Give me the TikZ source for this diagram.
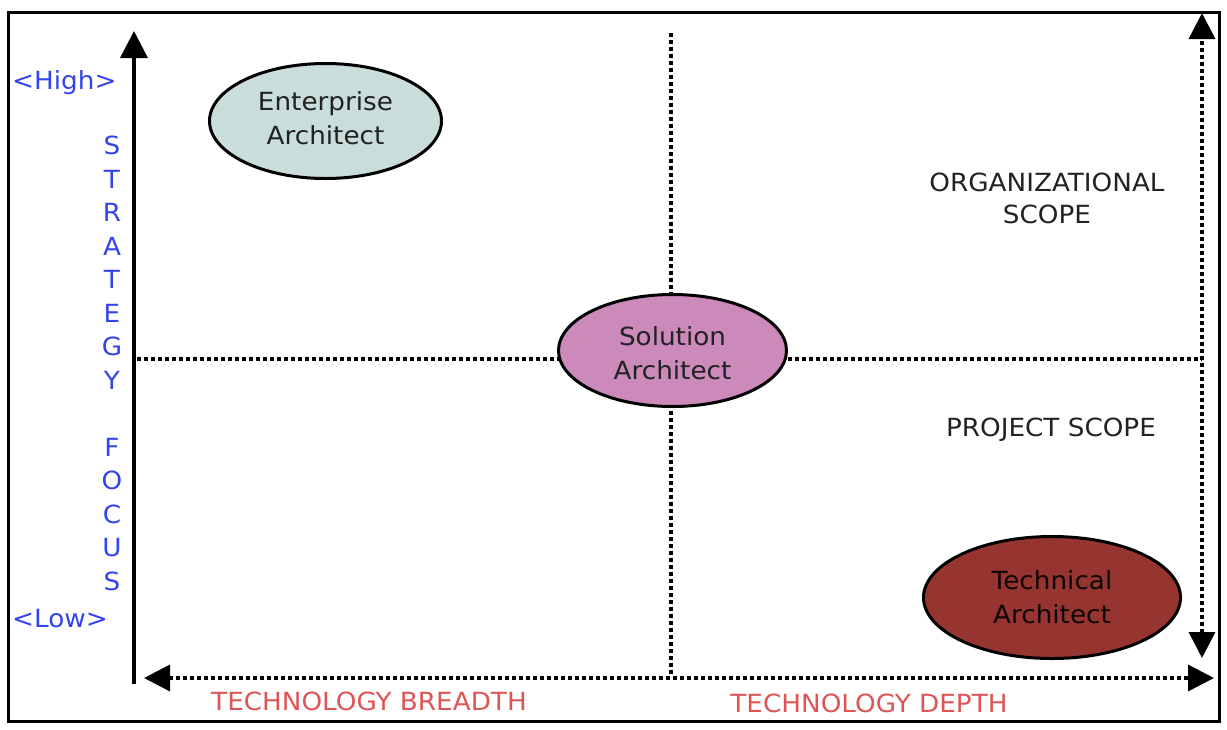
\documentclass[tikz,border=0pt]{standalone}
\usepackage{fontspec}
\setmainfont{DejaVu Sans}[FakeStretch=1.05]
\usetikzlibrary{arrows.meta,shapes.geometric}
\definecolor{entfill}{HTML}{C9DDDB}
\definecolor{solfill}{HTML}{CC8ABB}
\definecolor{tecfill}{HTML}{963530}
\definecolor{axisblue}{HTML}{3344EE}
\definecolor{axisred}{HTML}{DD5555}
\definecolor{txt}{HTML}{222222}
\tikzset{bigtip/.tip={Triangle[width=26pt,length=26pt]}}
\begin{document}
\begin{tikzpicture}[x=1pt,y=-1pt,
  role/.style={ellipse,draw=black,line width=3pt,inner sep=0pt,align=center,
    font=\fontsize{25}{34}\selectfont,text=txt},
  dotline/.style={line width=3.5pt,dash pattern=on 3.5pt off 3.5pt},
  bluelbl/.style={text=axisblue,inner sep=0pt,font=\fontsize{25}{33.5}\selectfont},
  redlbl/.style={text=axisred,inner sep=0pt,font=\fontsize{25}{30}\selectfont},
  scopelbl/.style={text=txt,inner sep=0pt,align=center,font=\fontsize{25}{32}\selectfont}
]
\useasboundingbox (0,0) rectangle (1227,729);
\draw[line width=3pt] (8,12) rectangle (1219,721);

% coordinates of the axes
\coordinate (vbot) at (134,684);
\coordinate (vtop) at (134,31);
\coordinate (hl) at (144,678);
\coordinate (hr) at (1214,678);
\coordinate (rt) at (1202,13);
\coordinate (rb) at (1202,658);
\coordinate (mtop) at (671,33);
\coordinate (mbot) at (671,674);
\coordinate (hmidl) at (137,359);
\coordinate (hmidr) at (1202,359);

% quadrant lines (behind the ellipses)
\draw[dotline] (mtop) -- (mbot);
\draw[dotline] (hmidl) -- (hmidr);

% role ellipses
\node[role,fill=entfill,minimum width=232pt,minimum height=115pt] (ent) at (325.5,121) {Enterprise\\Architect\vphantom{p}};
\node[role,fill=solfill,minimum width=228pt,minimum height=112pt] (sol) at (672.5,350.5) {\rule{0pt}{24pt}Solution\\Architect};
\node[role,fill=tecfill,minimum width=257pt,minimum height=122pt,text=black!90!tecfill] (tec) at (1052,597.5) {Technical\\Architect};

% axes
\draw[line width=3.5pt,-{Triangle[width=27pt,length=27pt]}] (vbot) -- (vtop);
\draw[dotline,bigtip-bigtip] (hl) -- (hr);
\draw[dotline,bigtip-bigtip] (rb) -- (rt);

% labels
\node[bluelbl,anchor=base west] (high) at (12,89) {<High>};
\node[bluelbl,anchor=base west] (low) at (12,627) {<Low>};
\node[bluelbl,align=center] (strategy) at (112,363.5) {S\\T\\R\\A\\T\\E\\G\\Y\\\mbox{}\\F\\O\\C\\U\\S};
\node[scopelbl] (org) at (1047,198) {ORGANIZATIONAL\\SCOPE};
\node[scopelbl,anchor=base] (proj) at (1051,436) {PROJECT SCOPE};
\node[redlbl,anchor=base] (breadth) at (369,710) {TECHNOLOGY BREADTH};
\node[redlbl,anchor=base] (depth) at (869,712) {TECHNOLOGY DEPTH};
\end{tikzpicture}
\end{document}
